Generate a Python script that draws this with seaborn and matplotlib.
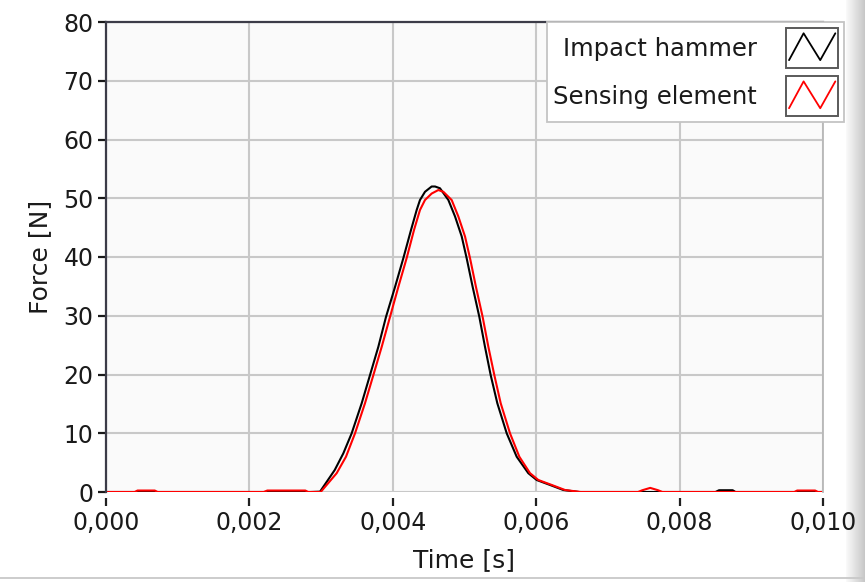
import matplotlib
matplotlib.use("Agg")
import matplotlib.pyplot as plt
from matplotlib.legend_handler import HandlerBase
from matplotlib.lines import Line2D
from matplotlib.patches import Rectangle
from matplotlib.ticker import FuncFormatter, MultipleLocator
import numpy as np
import pandas as pd
import seaborn as sns

# impact hammer force [N] vs time [s]
hammer_t = [0.0, 0.00285, 0.002985, 0.00319, 0.00331, 0.003426, 0.003566, 0.003682,
            0.003798, 0.003905, 0.004031, 0.004147, 0.004254, 0.004333, 0.004379,
            0.004449, 0.004542, 0.004589, 0.004658, 0.004775, 0.004868, 0.004961,
            0.00503, 0.005114, 0.005207, 0.005286, 0.005365, 0.005458, 0.005589,
            0.005728, 0.00589, 0.006007, 0.006192, 0.006378, 0.0066, 0.0085,
            0.00855, 0.00874, 0.00878, 0.01]
hammer_f = [0.0, 0.0, 0.06, 3.74, 6.58, 9.98, 15.1, 19.9,
            24.7, 29.8, 34.9, 39.8, 44.6, 48.0, 49.7,
            51.1, 52.0, 52.0, 51.7, 49.7, 46.9, 43.5,
            39.8, 34.9, 29.8, 24.7, 19.9, 15.1, 9.98,
            6.0, 3.2, 2.04, 1.2, 0.34, 0.0, 0.0,
            0.3, 0.3, 0.0, 0.0]

# sensing element force [N] vs time [s]
sensor_t = [0.0, 0.0004, 0.00044, 0.00068, 0.00072, 0.0022, 0.00225, 0.00278,
            0.00282, 0.002994, 0.003217, 0.003347, 0.003473, 0.003612, 0.003729,
            0.003845, 0.003961, 0.004077, 0.004193, 0.004296, 0.004379, 0.004449,
            0.004542, 0.004635, 0.004705, 0.004821, 0.004914, 0.005007, 0.005077,
            0.00516, 0.005253, 0.005333, 0.005416, 0.005505, 0.005635, 0.005765,
            0.005914, 0.00603, 0.006216, 0.006402, 0.00662, 0.00742, 0.00748,
            0.00759, 0.0077, 0.00776, 0.0096, 0.00964, 0.00989, 0.00993, 0.01]
sensor_f = [0.0, 0.0, 0.25, 0.25, 0.0, 0.0, 0.25, 0.25,
            0.0, 0.0, 3.2, 6.0, 9.98, 15.1, 19.9,
            24.7, 29.8, 34.9, 39.8, 44.6, 48.0, 49.7,
            50.8, 51.4, 51.1, 49.7, 46.9, 43.5, 39.8,
            34.9, 29.8, 24.7, 19.9, 15.1, 9.98, 6.0,
            3.2, 2.04, 1.2, 0.34, 0.0, 0.0, 0.3,
            0.7, 0.3, 0.0, 0.0, 0.25, 0.25, 0.0, 0.0]

series_names = ["Impact hammer", "Sensing element"]
series_colors = ["black", "red"]

df = pd.concat([
    pd.DataFrame({"t": hammer_t, "F": hammer_f, "series": series_names[0]}),
    pd.DataFrame({"t": sensor_t, "F": sensor_f, "series": series_names[1]}),
])

sns.set_style("white")
plt.rcParams["font.family"] = ["DejaVu Sans"]
TXT = "#1a1a1a"

W, H = 865, 582
fig = plt.figure(figsize=(W / 100, H / 100), dpi=100)
fig.patch.set_facecolor("white")
ax = fig.add_axes([106 / W, 1 - 492 / H, (823 - 106) / W, (492 - 22) / H])
ax.set_facecolor("#fafafa")

sns.lineplot(data=df, x="t", y="F", hue="series", hue_order=series_names,
             palette=dict(zip(series_names, series_colors)), linewidth=1.5,
             sort=False, estimator=None, ax=ax, legend=False)

ax.set_xlim(0, 0.01)
ax.set_ylim(0, 80)
ax.xaxis.set_major_locator(MultipleLocator(0.002))
ax.yaxis.set_major_locator(MultipleLocator(10))
ax.xaxis.set_major_formatter(FuncFormatter(lambda v, p: f"{v:.3f}".replace(".", ",")))
ax.grid(True, color="#c8c8c8", linewidth=1.5)
ax.set_axisbelow(True)
for s in ["left", "top"]:
    ax.spines[s].set_color("#3c3c48")
    ax.spines[s].set_linewidth(1.6)
ax.spines["right"].set_color("#b8b8b8")
ax.spines["right"].set_linewidth(1.3)
# x ticks sit a little below the plot edge
ax.spines["bottom"].set_position(("outward", 4))
ax.spines["bottom"].set_color("none")
ax.tick_params(axis="both", direction="out", colors=TXT, labelsize=17,
               length=6, width=1.6, pad=3, bottom=True, left=True)
ax.tick_params(axis="x", length=6, pad=4, color="#202020")
ax.set_xlabel("Time [s]", fontsize=18, color=TXT, labelpad=9)
ax.set_ylabel("Force [N]", fontsize=18, color=TXT, labelpad=8)


class ZigzagHandler(HandlerBase):
    def create_artists(self, legend, orig_handle, xdescent, ydescent,
                       width, height, fontsize, trans):
        box = Rectangle((-xdescent, -ydescent), width, height,
                        facecolor="white", edgecolor="#5a5a5a", lw=1.4,
                        transform=trans)
        xs = np.array([0.06, 0.34, 0.66, 0.95]) * width - xdescent
        ys = np.array([0.2, 0.87, 0.2, 0.87]) * height - ydescent
        zig = Line2D(xs, ys, color=orig_handle.get_color(), lw=1.3,
                     transform=trans)
        return [box, zig]


handles = [Line2D([], [], color=c) for c in series_colors]
leg = ax.legend(handles, series_names, loc="upper right",
                bbox_to_anchor=(844 / W, 1 - 22 / H), bbox_transform=fig.transFigure,
                markerfirst=False, fontsize=17.5, frameon=True, fancybox=False,
                handlelength=2.14, handleheight=2.16, handletextpad=1.2,
                labelspacing=0.33, borderpad=0.25, borderaxespad=0,
                handler_map={Line2D: ZigzagHandler()})
leg.get_frame().set_facecolor("white")
leg.get_frame().set_edgecolor("#c4c4c4")
leg.get_frame().set_linewidth(1.3)
leg.get_frame().set_alpha(1)
for t in leg.get_texts():
    t.set_color(TXT)

# window edge decorations
side = fig.add_axes([846 / W, 0, 19 / W, 1])
side.set_zorder(-1)
side.imshow(np.linspace(0.98, 0.78, 50).reshape(1, -1), cmap="gray", vmin=0, vmax=1,
            aspect="auto", extent=(0, 1, 0, 1))
side.axis("off")
fig.add_artist(Line2D([0, 1], [1 - 578 / H] * 2, color="#c8c8c8", lw=1.3))

fig.savefig("out.png", dpi=100)
